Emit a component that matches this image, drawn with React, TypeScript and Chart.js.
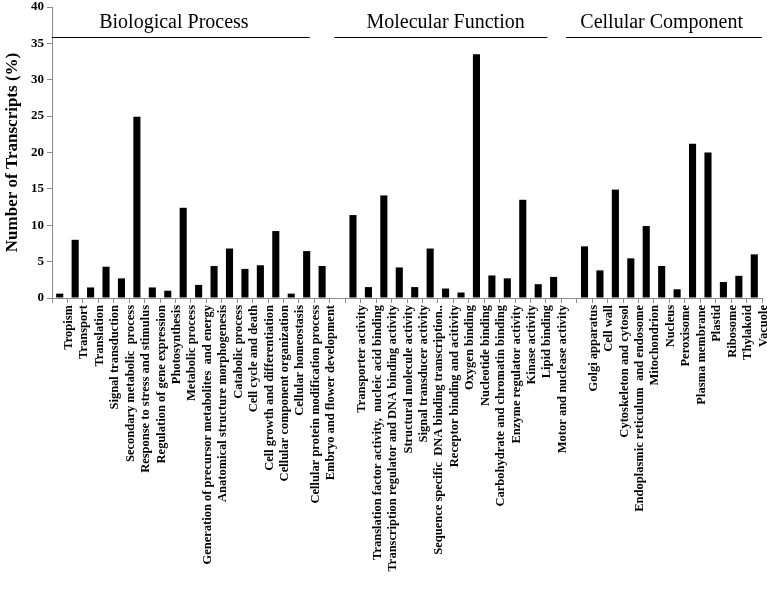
import React, { useEffect, useRef } from "react";
import { Chart, registerables } from "chart.js";

Chart.register(...registerables);

const bioProcess = [
  "Tropism",
  "Transport",
  "Translation",
  "Signal transduction",
  "Secondary metabolic  process",
  "Response to stress and stimulus",
  "Regulation of gene expression",
  "Photosynthesis",
  "Metabolic process",
  "Generation of precursor metabolites  and energy",
  "Anatomical structure morphogenesis",
  "Catabolic process",
  "Cell cycle and death",
  "Cell growth and differentiation",
  "Cellular component organization",
  "Cellular homeostasis",
  "Cellular protein modification process",
  "Embryo and flower development",
];
const bioValues = [0.6, 8.0, 1.45, 4.3, 2.7, 24.9, 1.45, 1.0, 12.4, 1.8, 4.4, 6.8, 4.0, 4.5, 9.2, 0.6, 6.45, 4.4];

const molFunction = [
  "Transporter activity",
  "Translation factor activity,  nucleic acid binding",
  "Transcription regulator and DNA binding activity",
  "Structural molecule activity",
  "Signal transducer activity",
  "Sequence specific  DNA binding transcription..",
  "Receptor binding and acitivity",
  "Oxygen binding",
  "Nucleotide binding",
  "Carbohydrate and chromatin binding",
  "Enzyme regulator activity",
  "Kinase activity",
  "Lipid binding",
  "Motor and nuclease activity",
];
const molValues = [11.4, 1.5, 14.1, 4.2, 1.5, 6.8, 1.3, 0.75, 33.5, 3.1, 2.7, 13.5, 1.9, 2.9];

const cellComponent = [
  "Golgi apparatus",
  "Cell wall",
  "Cytoskeleton and cytosol",
  "Endoplasmic reticulum  and endosome",
  "Mitochondrion",
  "Nucleus",
  "Peroxisome",
  "Plasma membrane",
  "Plastid",
  "Ribosome",
  "Thylakoid",
  "Vacuole",
];
const cellValues = [7.1, 3.8, 14.9, 5.45, 9.9, 4.4, 1.2, 21.2, 20.0, 2.2, 3.05, 6.0];

const groupNames = ["Biological Process", "Molecular Function", "Cellular Component"];

const yTickMin = 0;
const yTickMax = 40;
const yTickStep = 5;
const yTitle = "Number of Transcripts (%)";

const labels = [...bioProcess, "", ...molFunction, "", ...cellComponent];
const data = [...bioValues, null, ...molValues, null, ...cellValues];

const SERIF = "'Liberation Serif', 'Times New Roman', serif";

// header line spans and text centres in category units (layout)
const groupSpans = [
  [-0.5, 16.2],
  [17.8, 31.6],
  [32.8, 45.5],
];
const groupTextCenters = [7.4, 25.0, 39.0];

const headerPlugin = {
  id: "groupHeaders",
  afterDraw(chart: any) {
    const { ctx, scales } = chart;
    const xs = scales.x;
    const ys = scales.y;
    const lineY = Math.round(ys.getPixelForValue(35.85)) + 0.5;
    const textY = ys.getPixelForValue(37.9);
    ctx.save();
    ctx.strokeStyle = "#000";
    ctx.lineWidth = 1.2;
    ctx.fillStyle = "#000";
    ctx.font = `20px ${SERIF}`;
    ctx.textAlign = "center";
    ctx.textBaseline = "middle";
    groupNames.forEach((name, i) => {
      const x1 = xs.getPixelForValue(groupSpans[i][0]);
      const x2 = xs.getPixelForValue(groupSpans[i][1]);
      ctx.beginPath();
      ctx.moveTo(x1, lineY);
      ctx.lineTo(x2, lineY);
      ctx.stroke();
      ctx.fillText(name, xs.getPixelForValue(groupTextCenters[i]), textY);
    });
    ctx.restore();
  },
};

export default function App() {
  const ref = useRef<HTMLCanvasElement>(null);
  useEffect(() => {
    if (!ref.current) return;
    const chart = new Chart(ref.current, {
      type: "bar",
      data: {
        labels,
        datasets: [
          {
            data,
            backgroundColor: "#000",
            borderWidth: 0,
            barPercentage: 0.46,
            categoryPercentage: 1,
          },
        ],
      },
      options: {
        responsive: false,
        animation: false,
        layout: { padding: { top: 0, right: 5, left: 0, bottom: 0 } },
        plugins: {
          legend: { display: false },
          tooltip: { enabled: false },
        },
        scales: {
          x: {
            afterFit(scale: any) {
              scale.height = 299;
              scale.paddingRight = 0;
            },
            border: { color: "#8c8c8c", width: 1 },
            grid: {
              offset: true,
              drawOnChartArea: false,
              drawTicks: true,
              tickLength: 5,
              color: "#8c8c8c",
            },
            ticks: {
              autoSkip: false,
              maxRotation: 90,
              minRotation: 90,
              labelOffset: 9,
              padding: 2,
              color: "#000",
              font: { family: SERIF, size: 12.5, weight: "bold" },
            },
          },
          y: {
            min: yTickMin,
            max: yTickMax,
            afterFit(scale: any) {
              scale.width = 52;
              scale.paddingTop = 7;
            },
            border: { color: "#8c8c8c", width: 1 },
            grid: {
              drawOnChartArea: false,
              drawTicks: true,
              tickLength: 5,
              color: "#8c8c8c",
            },
            ticks: {
              stepSize: yTickStep,
              padding: 3,
              color: "#000",
              font: { family: SERIF, size: 13, weight: "bold" },
            },
            title: {
              display: true,
              text: yTitle,
              color: "#000",
              padding: { top: 2, bottom: 0 },
              font: { family: SERIF, size: 17, weight: "bold" },
            },
          },
        },
      },
      plugins: [headerPlugin],
    } as any);
    return () => chart.destroy();
  }, []);
  return (
    <div style={{ position: "absolute", left: 0, top: 0, width: 767, height: 597, background: "#fff" }}>
      <canvas ref={ref} width={767} height={597} style={{ display: "block" }} />
    </div>
  );
}
